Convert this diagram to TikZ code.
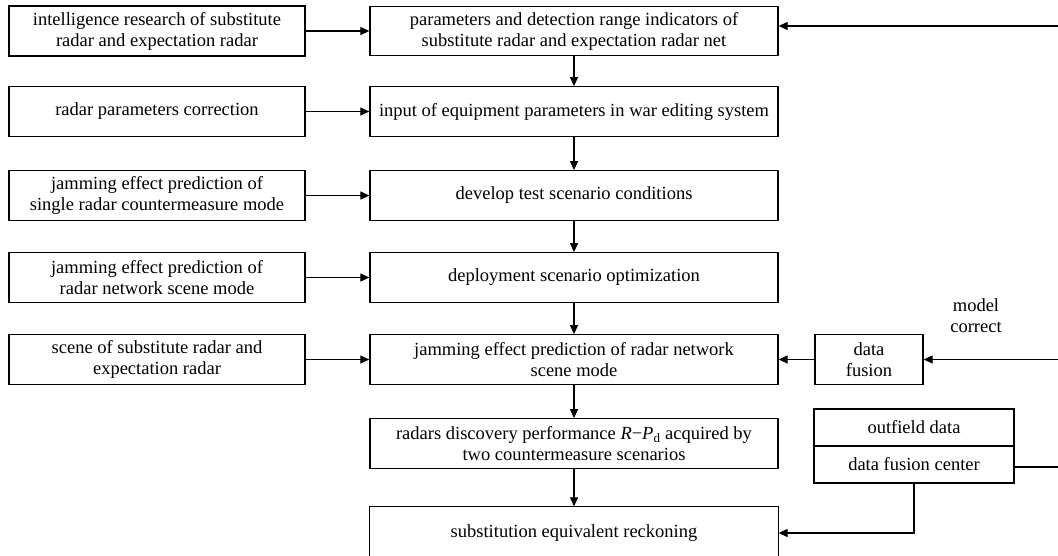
\documentclass[tikz,border=0pt]{standalone}
\usepackage{fontspec}
\setmainfont{Liberation Serif}
\usetikzlibrary{arrows.meta}
\tikzset{
  box/.style={draw, line width=1.3pt, align=center, inner sep=0pt, font=\fontsize{18.5}{21}\selectfont},
  lbox/.style={box, minimum width=296pt, minimum height=50pt},
  cbox/.style={box, minimum width=408pt, minimum height=49.5pt},
  arr/.style={line width=1.2pt, -{Triangle[length=9pt,width=8pt]}},
  ln/.style={line width=1.2pt},
  lbl/.style={align=center, inner sep=0pt, font=\fontsize{18.5}{21}\selectfont}
}
\begin{document}
\begin{tikzpicture}[x=1pt,y=-1pt]
\useasboundingbox[fill=white] (0,0) rectangle (1058,555);
\clip (0,0) rectangle (1058,555);
% left column
\node[lbox] (l1) at (157,31) {intelligence research of substitute\\radar and expectation radar};
\node[lbox] (l2) at (157,111.5) {radar parameters correction};
\node[lbox] (l3) at (157,195.5) {jamming effect prediction of\\single radar countermeasure mode};
\node[lbox] (l4) at (157,277.5) {jamming effect prediction of\\radar network scene mode};
\node[lbox] (l5) at (157,359.5) {scene of substitute radar and\\expectation radar};
% centre column
\node[cbox] (c1) at (574,31) {parameters and detection range indicators of\\substitute radar and expectation radar net};
\node[cbox] (c2) at (574,111.5) {input of equipment parameters in war editing system};
\node[cbox] (c3) at (574,195.5) {develop test scenario conditions};
\node[cbox] (c4) at (574,277.5) {deployment scenario optimization};
\node[cbox] (c5) at (574,359.5) {jamming effect prediction of radar network\\scene mode};
\node[cbox] (c6) at (574,443.5) {radars discovery performance \textit{R}−\textit{P}\textsubscript{d} acquired by\\two countermeasure scenarios};
\node[cbox, draw=none, minimum height=52pt] (c7) at (574,533) {substitution equivalent reckoning};
\draw[line width=1.3pt] (c7.north west) rectangle ([yshift=-30pt]c7.south east);
% right side
\node[box, minimum width=108pt, minimum height=49.5pt] (df) at (869,359.5) {data\\fusion};
\node[lbl] (mc) at (976,316) {model\\correct};
\node[box, minimum width=200pt, minimum height=37pt] (od) at (914,427.5) {outfield data};
\node[box, minimum width=200pt, minimum height=37pt] (dfc) at (914,464.5) {data fusion center};
\coordinate (r1) at (1058,26);
\coordinate (r2) at (1058,359.5);
\coordinate (r3) at (1058,467);
% connectors
\foreach \i in {1,...,5} \draw[arr] (l\i.east) -- (c\i.west);
\foreach \i/\j in {1/2,2/3,3/4,4/5,5/6,6/7} \draw[arr] (c\i.south) -- (c\j.north);
\draw[arr] (r1) -- (r1 -| c1.east);
\draw[arr] (r2) -- (df.east);
\draw[arr] (df.west) -- (c5.east);
\draw[ln] (dfc.east |- r3) -- (r3);
\draw[arr] (dfc.south) |- (c7.east);
\end{tikzpicture}
\end{document}
